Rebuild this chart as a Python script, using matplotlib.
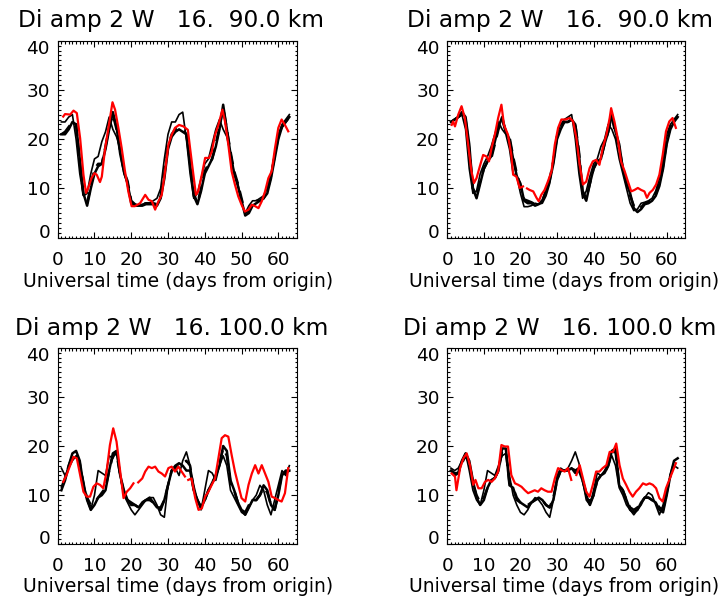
import matplotlib
matplotlib.use("Agg")
import matplotlib.pyplot as plt
import matplotlib.transforms as mtransforms
import numpy as np

plt.rcParams['font.family'] = ['DejaVu Sans']

days = np.arange(1, 64)

titles = ["Di amp 2 W   16.  90.0 km", "Di amp 2 W   16.  90.0 km",
          "Di amp 2 W   16. 100.0 km", "Di amp 2 W   16. 100.0 km"]
xlabel = "Universal time (days from origin)"
yticks = [0, 10, 20, 30, 40]
xticks = [0, 10, 20, 30, 40, 50, 60]

# ---- panel 1 (90 km, left)
thin1 = [23.5, 23.5, 24.5, 25, 20, 13, 8.5, 9, 13, 16, 16.5, 19.5, 21.5, 24.5, 22,
         20.5, 18, 13, 11, 7, 6.5, 6.5, 6.8, 7, 7, 7.5, 8, 10, 16, 21, 23.5, 23.5,
         25, 25.5, 20, 13, 8, 9, 12, 15, 16, 19, 22, 24, 22, 20.5, 17, 13, 11, 7, 5,
         6.5, 7.5, 7.5, 8, 8.5, 10, 13, 17, 21, 23, 24, 25]
thick1 = [21, 21, 22, 23.5, 23, 16, 9, 6.5, 10, 13, 14.5, 15, 18, 22, 25.5, 22.5, 17,
          13.5, 11, 7, 6.5, 6.5, 6.5, 6.8, 6.8, 6.8, 6.5, 8, 12, 18, 20.5, 21.5, 22,
          21.5, 21, 15, 8.5, 6.8, 9.5, 13, 14.5, 16, 18.5, 22, 27, 22, 17, 13, 10.5,
          7.5, 4.5, 5, 6.5, 7, 7.5, 8, 9, 12, 16, 20, 22.5, 23.5, 24.5]
dash1 = [21, 21.5, 22.5, 23.5, 23, 15.5, 8.5, 7, 10.5, 14, 15, 15, 18.5, 22.5, 25, 22,
         17.5, 13.5, 11.5, 7.5, 6.8, 6.5, 6.8, 7, 7, 7, 6.8, 8.5, 13, 18.5, 21, 22,
         22, 22, 21, 15.5, 9, 7, 10, 13.5, 15, 16, 19, 22.5, 26.5, 22, 17.5, 13.5, 11,
         8, 5, 5.5, 7, 7.5, 7.5, 8, 9.5, 12.5, 16.5, 20.5, 22.5, 23.5, 24.5]
red_x1 = [1.5, 2, 3.4, 4.3, 5.2, 6.1, 7, 7.7, 8.3, 9.2, 10, 10.6, 11.5, 12, 12.9, 13.8,
          14.9, 15.6, 16.5, 17.4, 18.3, 19.2, 20.1, 21, 22.4, 23.8, 24.7, 25.6, 26.5,
          27.4, 28.3, 29.2, 30.1, 31, 31.9, 33, 34.2, 35.4, 36, 36.9, 37.6, 38.2, 39.2,
          40.1, 41.2, 41.9, 42.8, 43.7, 44.8, 45.5, 46.4, 47.3, 48.2, 49.1, 50, 50.9,
          51.9, 52.8, 53.7, 54.6, 55.5, 56.4, 57.3, 58.2, 59.1, 60, 60.9, 61.8, 62.7]
red_y1 = [24.6, 25.1, 25, 25.8, 25.3, 20.2, 12.8, 9.1, 10.1, 12.1, 13.1, 12.8, 11.3,
          12.4, 18.2, 22.3, 27.5, 26, 22.3, 18.2, 13.5, 9.4, 6.4, 6.4, 7, 8.7, 7.7, 7.4,
          5.7, 7.4, 8.7, 13.5, 18.9, 20.9, 22.3, 22.9, 22.6, 21.9, 18.2, 12.8, 8.7, 9.4,
          12.8, 16.2, 16.2, 17.5, 20.9, 22.9, 26, 23.6, 18.9, 13.5, 10.8, 8.4, 6.7, 5.3,
          5.7, 6.7, 6.4, 6, 7.4, 9.4, 12.1, 13.5, 18.2, 22.3, 24, 22.9, 21.6]

# ---- panel 2 (90 km, right)
thin2 = [23.5, 24, 24.5, 25, 22, 14, 9, 9.5, 13, 15, 16.5, 18.5, 21, 23.5, 22, 21, 18,
         13, 12.5, 9, 6.3, 6.3, 6.5, 7, 6.8, 7, 8.5, 11, 16, 21, 23, 24, 24.5, 25, 20,
         13, 8, 9.5, 12.5, 15, 16, 18.5, 20, 23, 22, 20, 16, 13, 10, 7, 5.5, 5.8, 7,
         7.2, 7.5, 8, 9.5, 12, 16, 21, 23, 24, 25]
thick2 = [23.5, 24, 24.5, 25.5, 24.5, 19, 10, 8, 11, 14, 15.5, 16.5, 19.5, 22.5, 24.5,
          21.5, 20, 16, 12.5, 11, 7.5, 7, 7, 6.5, 6.8, 7.5, 9.5, 11.5, 15, 20, 22, 23.5,
          23.5, 24, 23, 17, 9, 7.5, 11, 14, 15.5, 16, 19, 21.5, 25, 21.5, 19, 14, 11, 9,
          6, 5.2, 5.8, 6.8, 7, 7.5, 8.5, 10.5, 14, 19, 22, 23.5, 24.5]
dash2 = [23.5, 24, 24.5, 25, 24, 18, 10, 8.5, 11.5, 14, 15.5, 16, 19, 22, 24, 21.5,
         20.5, 16.5, 13, 10.5, 7.8, 7.5, 7.2, 6.8, 7, 7.5, 9.5, 12, 15.5, 20.5, 22.5,
         23.5, 23.5, 24, 23, 17.5, 9.5, 8, 11, 14, 15.5, 16, 19, 21.5, 24.5, 21, 18.5,
         14, 11, 8.5, 6.5, 5.8, 6.2, 7, 7.2, 7.8, 8.8, 11, 14.5, 19.5, 22.5, 24, 24.5]
red_x2 = [1.2, 1.6, 2.1, 3, 3.9, 4.8, 5.7, 6.6, 7.3, 8, 8.9, 9.8, 10.7, 11.4, 12.1, 13,
          13.9, 14.8, 15.5, 16.6, 17.5, 18, 18.9, 19.8, 20.7, 21.3, 21.8, 22.5, 23.5,
          24.4, 25, 25.7, 26.6, 27.5, 28.5, 29.4, 30.3, 31.2, 32.3, 33.5, 34.4, 35.3,
          36.2, 37.1, 38, 38.9, 39.8, 40.7, 41.6, 42.5, 43.5, 44.4, 44.8, 45.7, 46.6,
          47.5, 48.5, 49.4, 50.3, 51.2, 52.1, 53, 53.9, 54.6, 55.3, 56.2, 57.1, 58, 58.9,
          59.8, 60.7, 61.6, 62.5]
red_y2 = [22.9, 23.6, 22.6, 25, 26.7, 24.3, 18.9, 13.5, 11.1, 12.1, 14.5, 16.8, 16.5,
          15.5, 18.2, 20.9, 24.3, 27, 22.9, 20.9, 16.8, 12.8, 12.4, 10.1, 10.4, np.nan,
          10, 9.7, 9.4, 8.1, 7.4, 8.7, 9.7, 11.4, 13.5, 18.9, 22.3, 24, 24, 24.3, 23.6,
          20.2, 14.8, 10.8, 11.4, 14.1, 15.5, 15.8, 14.8, 18.2, 20.9, 24.3, 26.3, 23.6,
          20.2, 15.5, 13.5, 11.4, 9.4, 9.7, 10.1, 9.7, 9.4, 8.1, 9.1, 9.7, 10.8, 12.8,
          16.8, 21.6, 23.6, 24.3, 22.3]

# ---- panel 3 (100 km, left)
thin3 = [15.5, 14, 15.5, 17, 18, 16, 13, 9, 7, 10, 15, 14.5, 14, 18, 17.5, 19, 14, 10,
         8.5, 7, 6, 7, 8, 9, 9.5, 9.5, 8, 6, 5.5, 12, 15, 15.5, 14, 17, 18.8, 16, 12,
         9, 7, 11, 15, 14.5, 13, 16, 18, 16, 11, 9.5, 8, 6.5, 6, 7.5, 9, 10, 12, 11, 8,
         6, 9, 12, 15, 14, 16]
thick3 = [11, 13, 16, 18.5, 19, 17, 12, 9, 7, 8, 9.5, 10, 11, 15, 18.5, 19, 14, 11, 9,
          8, 8, 7.5, 8.5, 9, 9.5, 8.5, 7.5, 7.5, 9, 12, 15, 16, 16.5, 16, 15, 15, 11, 9,
          7.5, 9, 11, 12.5, 14, 16, 20, 19, 13, 11, 8.5, 7, 6, 7.5, 9, 9, 10, 12, 11, 8,
          7, 10, 14, 15, 15]
dash3 = [11.5, 13.5, 16, 18, 18.5, 16.5, 12, 9.5, 8, 8.5, 9.5, 10.5, 11.5, 15, 18,
         18.5, 14, 10.5, 9, 8.5, 8, 7.5, 8.5, 9, 9, 8.5, 7.5, 7, 9, 12, 15, 15.5, 16,
         16.5, 17, 16, 11, 9, 7.5, 9, 11, 12.5, 14, 16.5, 19.5, 18, 12.5, 11, 8.5, 7,
         6.5, 8, 9, 9, 10, 11.5, 10.5, 8, 7, 10.5, 14.5, 14.5, 15]
red_x3 = [1.5, 2.4, 3.4, 4.3, 5.2, 6.1, 7, 7.9, 8.8, 9.7, 10.6, 11.5, 12.4, 13.3, 14.2,
          15.1, 16, 17, 17.9, 18.8, 19.7, 20.6, 21.2, 21.9, 23, 23.8, 24.7, 25.6, 26.5,
          27.4, 28.3, 29.2, 30.1, 31, 31.9, 32.8, 33.7, 34.6, 35.1, 35.5, 36.4, 37.4,
          38.3, 39.2, 40.1, 41, 41.9, 42.8, 43.7, 44.6, 45.5, 46.4, 47.3, 48.2, 49.1, 50,
          51, 51.9, 52.8, 53.7, 54.6, 55.5, 56.4, 57.3, 58.2, 59.1, 60, 60.9, 61.8, 62.7]
red_y3 = [12.7, 14.1, 16.1, 17.8, 17.5, 14.1, 10.7, 9.7, 9.7, 11.7, 12.4, 12.1, 11.4,
          14.8, 20.2, 23.6, 20.9, 14.8, 9.4, 10.7, 11.4, 12.4, np.nan, 12.6, 13.4, 14.8,
          15.8, 15.5, 15.8, 14.8, 14.4, 13.8, 15.5, 15.8, 14.8, 15.8, 14.8, 13.8, np.nan,
          13.1, 13.4, 9.4, 7, 7.3, 9.7, 10.7, 12.1, 13.4, 17.5, 21.6, 22.2, 21.9, 18.2,
          14.8, 12.1, 9.4, 8.7, 12.1, 14.4, 16.1, 14.4, 16.1, 14.4, 12.7, 9.7, 9.4, 9,
          8.7, 10.4, 15.5]

# ---- panel 4 (100 km, right)
thin4 = [15.5, 15, 15.5, 17, 18.5, 15, 11, 9, 8, 11, 15, 14.5, 14, 16, 18, 18.5, 14,
         10, 8, 6.5, 6, 7, 8.5, 9.5, 9, 8, 6.5, 5.5, 9, 14, 15.5, 15, 15.5, 17, 18.8,
         16.5, 13, 9, 8, 11, 14.5, 14, 15, 16.5, 18, 16, 11.5, 10, 8, 7, 6, 7, 8, 9.5,
         10.5, 10, 8, 6, 8, 11, 14, 16, 15.5]
thick4 = [15, 14, 14.5, 17, 18.5, 17, 13, 9.5, 8, 9, 11.5, 13, 13.5, 15, 19.5, 19.5, 12,
          11.5, 9, 8.5, 8, 7.5, 8.5, 9, 9.5, 9, 8, 7.5, 9, 13, 15, 15, 15, 15.5, 14.5, 15,
          13, 10, 8, 10, 13, 14, 14.5, 16, 19, 19.5, 12, 11, 9, 7, 6.5, 7, 8.5, 9.5, 9.5,
          9, 8.5, 7, 6.5, 10, 14, 17, 17.5]
dash4 = [15, 14.5, 14.5, 16.5, 18, 16.5, 12.5, 10, 8.5, 9.5, 11.5, 13, 13.5, 15, 19,
         19, 12.5, 11.5, 9.5, 8.5, 8, 8, 8.5, 9, 9.5, 9, 8, 7.5, 9.5, 13, 15, 15, 15,
         15.5, 15, 15.5, 13, 10.5, 8.5, 10, 13, 14, 14.5, 16, 18.5, 19, 12, 11, 9, 7.5,
         7, 7.5, 8.5, 9.5, 9.5, 9, 8.5, 7.5, 7, 10.5, 14, 16.5, 17]
red_x4 = [1.2, 2.1, 2.5, 3.5, 4.4, 5.3, 6.2, 7.1, 7.7, 8.5, 9.4, 10.3, 11.2, 12.1, 13,
          13.9, 14.8, 15.7, 16.6, 17.5, 18.5, 19.4, 20.3, 21.2, 22.1, 23, 23.9, 24.8,
          25.7, 26.6, 27.5, 28.5, 29.4, 30.3, 31.2, 32.1, 33, 33.9, 34.6, 35.3, 36.2,
          37.1, 38, 38.9, 39.8, 40.7, 41.6, 42.5, 43.5, 44.4, 45.3, 46.2, 47.1, 48, 48.9,
          49.8, 50.7, 51.6, 52.5, 53.5, 54.4, 55.3, 56.2, 57.1, 58, 58.9, 59.8, 60.7,
          61.6, 62.5]
red_y4 = [14.4, 13.8, 11, 15.5, 17.5, 18.5, 16.1, 12.1, 13.1, 11.4, 11.4, 12.7, 13.1,
          12.7, 13.4, 14.8, 20.2, 19.9, 19.9, 14.1, 12.4, 12.1, 11.7, 11, 10.4, 10.7, 11,
          10.7, 11.4, 11, 10.7, 10.7, 13.4, 15.5, 15.1, 14.8, 15.5, 13.1, np.nan, 14.1,
          16.1, 13.4, 10.7, 9.7, 12.1, 14.8, 14.8, 15.5, 16.1, 18.8, 18.8, 20.5, 16.1,
          13.4, 12.1, 10.7, 9.7, 10.7, 11.4, 12.4, 12.1, 12.4, 12.1, 11.4, 9.4, 8.7,
          11.4, 13.1, 14.8, 16.5]

panels = [
    (thin1, thick1, dash1, red_x1, red_y1),
    (thin2, thick2, dash2, red_x2, red_y2),
    (thin3, thick3, dash3, red_x3, red_y3),
    (thin4, thick4, dash4, red_x4, red_y4),
]

W, H = 723, 600
fig = plt.figure(figsize=(W / 100, H / 100), dpi=100)

# axes boxes in pixels: left, top, right, bottom
boxes = [(57.7, 40.7, 296.7, 237.7), (447.3, 40.7, 685.0, 237.7),
         (57.7, 347.7, 296.7, 544.3), (447.3, 347.7, 685.0, 544.3)]
title_y = [27.5, 27.5, 335, 335]
xlab_y = [287, 287, 592, 592]
xlab_cx = [178, 564, 178, 564]

fs_tick = 13.3
fs_lab = 13.5
fs_title = 16.8
for i, (thin, thick, dash, rx, ry) in enumerate(panels):
    l, t, r, b = boxes[i]
    ax = fig.add_axes([l / W, 1 - b / H, (r - l) / W, (b - t) / H])
    ax.plot(days, thin, color='black', lw=1.2)
    ax.plot(days, dash, color='black', lw=1.8, dashes=(5, 3))
    ax.plot(days, thick, color='black', lw=1.8)
    ax.plot(rx, ry, color='#ff0000', lw=1.6)
    ax.set_xlim(0, 65)
    ax.set_ylim(0, 40)
    ax.set_xticks(xticks)
    ax.set_yticks(yticks)
    ax.set_xticks(np.arange(0, 66, 1), minor=True)
    ax.set_yticks(np.arange(0, 41, 1), minor=True)
    ax.tick_params(which='both', direction='in', top=True, right=True,
                   labelsize=fs_tick, width=0.8)
    ax.tick_params(which='major', length=4.5)
    ax.tick_params(which='minor', length=1.8)
    ax.tick_params(axis='x', pad=9.5)
    ax.tick_params(axis='y', pad=5.5)
    for sp in ax.spines.values():
        sp.set_linewidth(0.8)
    ylabels = ax.get_yticklabels()
    ylabels[0].set_transform(ylabels[0].get_transform() +
                             mtransforms.ScaledTranslation(0, 7 / 100, fig.dpi_scale_trans))
    ylabels[-1].set_transform(ylabels[-1].get_transform() +
                              mtransforms.ScaledTranslation(0, -6 / 100, fig.dpi_scale_trans))
    cx = (l + r) / 2
    fig.text((cx - 6) / W, 1 - title_y[i] / H, titles[i], fontsize=fs_title,
             ha='center', va='baseline')
    fig.text(xlab_cx[i] / W, 1 - xlab_y[i] / H, xlabel, fontsize=fs_lab,
             ha='center', va='baseline')

fig.savefig('out.png', dpi=100)
